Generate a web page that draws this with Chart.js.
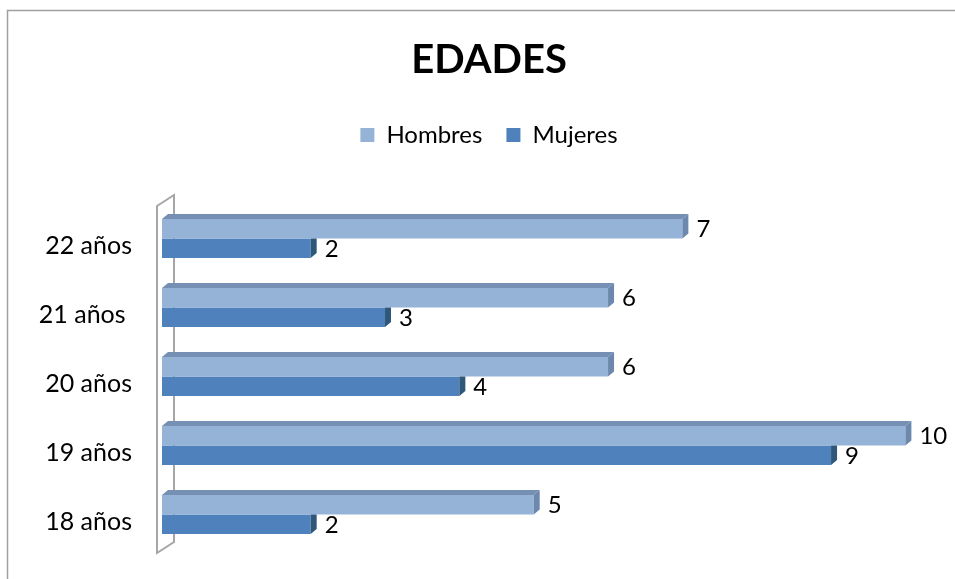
<!DOCTYPE html>
<html>
<head>
<meta charset="utf-8">
<script src="https://cdn.jsdelivr.net/npm/chart.js@4"></script>
<style>
  html, body { margin: 0; padding: 0; background: #fff; }
  #wrap { width: 955px; height: 579px; }
</style>
</head>
<body>
<div id="wrap"><canvas id="myChart"></canvas></div>
<script>
// data
const categories = ['22 años', '21 años ', '20 años', '19 años', '18 años'];
const hombres = [7, 6, 6, 10, 5];
const mujeres = [2, 3, 4, 9, 2];
const seriesNames = ['Hombres', 'Mujeres'];

const FONT = 'Lato';
const frontColors = ['#95b3d7', '#4f81bd'];
const topColors = ['#7590b3', '#3f6896'];
const sideColors = ['#6c88ad', '#2f5779'];

// frame around the whole chart (only top and left edges show)
const frame = {
  id: 'frame',
  beforeDraw(chart) {
    const ctx = chart.ctx;
    ctx.save();
    ctx.fillStyle = '#fff';
    ctx.fillRect(0, 0, chart.width, chart.height);
    ctx.strokeStyle = '#a0a0a0';
    ctx.lineWidth = 1.5;
    ctx.beginPath();
    ctx.moveTo(7.5, chart.height);
    ctx.lineTo(7.5, 10.5);
    ctx.lineTo(chart.width, 10.5);
    ctx.stroke();
    ctx.restore();
  }
};

// fake 3d: wall, top and side faces, value labels
const bars3d = {
  id: 'bars3d',
  beforeDatasetsDraw(chart) {
    const {ctx, chartArea: a} = chart;
    ctx.save();
    ctx.strokeStyle = '#a6a6a6';
    ctx.lineWidth = 2;
    ctx.beginPath();
    ctx.moveTo(a.left - 5, a.top + 2);
    ctx.lineTo(a.left + 12, a.top - 9);
    ctx.lineTo(a.left + 12, a.bottom - 7);
    ctx.lineTo(a.left - 5, a.bottom + 4);
    ctx.closePath();
    ctx.stroke();
    ctx.restore();
  },
  afterDatasetsDraw(chart) {
    const ctx = chart.ctx;
    const dx = 6, dy = 5;
    ctx.save();
    for (let i = chart.data.datasets.length - 1; i >= 0; i--) {
      const meta = chart.getDatasetMeta(i);
      meta.data.forEach((bar, j) => {
        const p = bar.getProps(['x', 'y', 'base', 'height'], true);
        const top = p.y - p.height / 2, bottom = p.y + p.height / 2;
        if (i === 0) {
          ctx.fillStyle = topColors[i];
          ctx.beginPath();
          ctx.moveTo(p.base, top);
          ctx.lineTo(p.x, top);
          ctx.lineTo(p.x + dx, top - dy);
          ctx.lineTo(p.base + dx, top - dy);
          ctx.closePath();
          ctx.fill();
          ctx.fillStyle = sideColors[i];
          ctx.beginPath();
          ctx.moveTo(p.x, top);
          ctx.lineTo(p.x + dx, top - dy);
          ctx.lineTo(p.x + dx, bottom - dy);
          ctx.lineTo(p.x, bottom);
          ctx.closePath();
          ctx.fill();
        } else {
          ctx.fillStyle = sideColors[i];
          ctx.beginPath();
          ctx.moveTo(p.x, top);
          ctx.lineTo(p.x + dx, top);
          ctx.lineTo(p.x + dx, bottom - dy);
          ctx.lineTo(p.x, bottom);
          ctx.closePath();
          ctx.fill();
        }
        ctx.fillStyle = '#000';
        ctx.font = '24px ' + FONT;
        ctx.textAlign = 'left';
        ctx.textBaseline = 'middle';
        ctx.fillText(String(chart.data.datasets[i].data[j]), p.x + dx + 8, p.y + 1);
      });
    }
    ctx.restore();
  }
};

new Chart('myChart', {
  type: 'bar',
  data: {
    labels: categories,
    datasets: [
      {label: seriesNames[0], data: hombres, backgroundColor: frontColors[0], borderWidth: 0},
      {label: seriesNames[1], data: mujeres, backgroundColor: frontColors[1], borderWidth: 0}
    ]
  },
  options: {
    indexAxis: 'y',
    responsive: true,
    maintainAspectRatio: false,
    animation: false,
    categoryPercentage: 0.565,
    barPercentage: 1,
    layout: {padding: {top: 12, left: 28, right: 5, bottom: 30}},
    plugins: {
      title: {
        display: true,
        text: 'EDADES',
        color: '#000',
        font: {family: FONT, size: 40, weight: 'bold'},
        padding: {top: 24, bottom: 15}
      },
      legend: {
        position: 'top',
        labels: {
          boxWidth: 14,
          boxHeight: 14,
          color: '#000',
          font: {family: FONT, size: 24},
          padding: 24
        }
      },
      tooltip: {enabled: false}
    },
    scales: {
      x: {
        position: 'top',
        min: 0,
        max: 10.6,
        grid: {display: false, drawTicks: false},
        border: {display: false},
        ticks: {display: false},
        afterFit: s => { s.height = 47; }
      },
      y: {
        grid: {display: false, drawTicks: false},
        border: {display: false},
        ticks: {color: '#000', font: {family: FONT, size: 25}, padding: 30, labelOffset: 7},
        afterFit: s => { s.width = 134; s.paddingTop = 0; s.paddingBottom = 0; }
      }
    }
  },
  plugins: [frame, bars3d]
});
</script>
</body>
</html>
